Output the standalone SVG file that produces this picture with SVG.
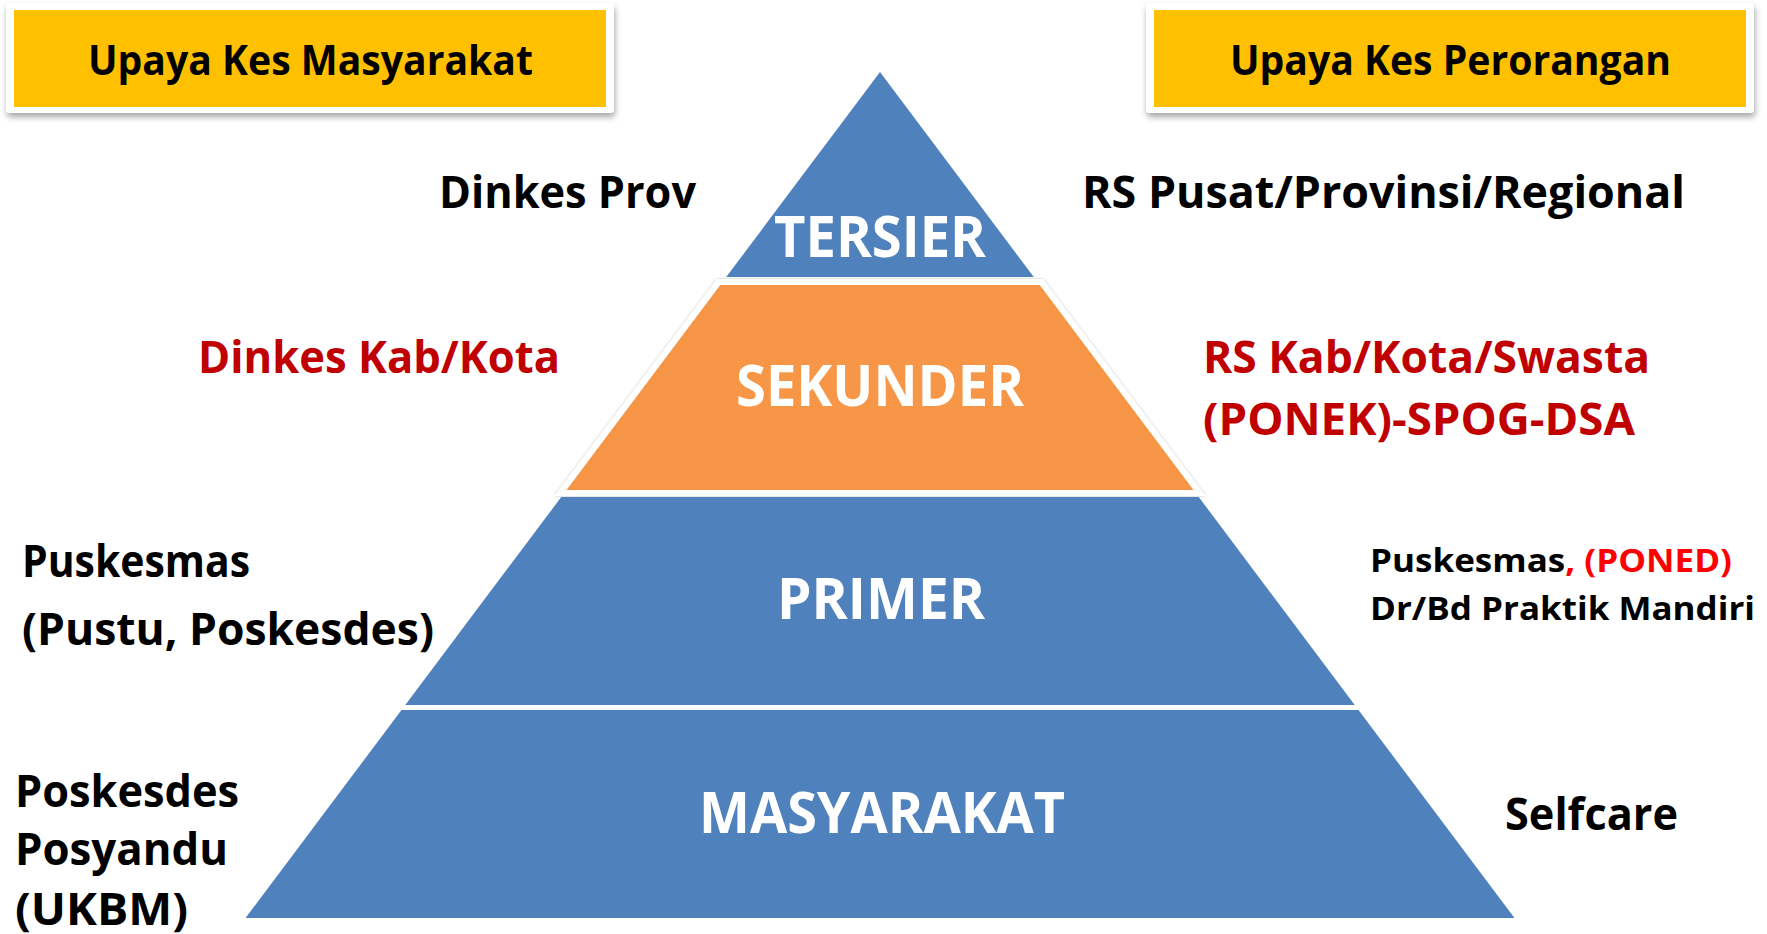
<svg xmlns="http://www.w3.org/2000/svg" width="1767" height="934" viewBox="0 0 1767 934">
  <defs>
    <filter id="hdrShadow" x="-5%" y="-20%" width="110%" height="150%">
      <feDropShadow dx="1" dy="4" stdDeviation="3" flood-color="#000" flood-opacity="0.35"/>
    </filter>
    <filter id="segGlow" x="-5%" y="-5%" width="110%" height="115%">
      <feDropShadow dx="0" dy="0" stdDeviation="1.5" flood-color="#000" flood-opacity="0.25"/>
    </filter>
  </defs>
  <style>
    text { font-family: "Open Sans", "Noto Sans", "Liberation Sans", sans-serif; font-weight: bold; }
    .hdr-frame { fill: #ffffff; filter: url(#hdrShadow); }
    .hdr-fill { fill: #FFC000; }
    .hdr-text { font-size: 42px; fill: #000000; }
    .blue { fill: #4F81BD; }
    .orange { fill: #F79646; }
    .lvl { font-size: 57px; fill: #ffffff; text-anchor: middle; }
    .side { font-size: 44px; fill: #000000; }
    .side-red { font-size: 44px; fill: #C00000; }
    .small { font-size: 33px; fill: #000000; }
    .bright { fill: #FF0000; }
  </style>
  <rect width="1767" height="934" fill="#ffffff"/>

  <g id="header-masyarakat">
    <rect class="hdr-frame" x="6" y="3" width="608" height="110" rx="4"/>
    <rect class="hdr-fill" x="14" y="10" width="592" height="97"/>
    <text class="hdr-text" x="88" y="75" textLength="445" lengthAdjust="spacingAndGlyphs">Upaya Kes Masyarakat</text>
  </g>

  <g id="header-perorangan">
    <rect class="hdr-frame" x="1146" y="3" width="608" height="110" rx="4"/>
    <rect class="hdr-fill" x="1154" y="10" width="592" height="97"/>
    <text class="hdr-text" x="1230" y="75" textLength="441" lengthAdjust="spacingAndGlyphs">Upaya Kes Perorangan</text>
  </g>

  <g id="level-tersier">
    <polygon class="blue" points="880,72 1033.75,277 726.25,277"/>
    <text class="lvl" x="880" y="257" textLength="212" lengthAdjust="spacingAndGlyphs">TERSIER</text>
  </g>

  <g id="level-sekunder">
    <polygon fill="#ffffff" filter="url(#segGlow)" points="717.25,279 1042.75,279 1205.5,496 554.5,496"/>
    <polygon class="orange" points="720.25,285 1039.75,285 1193.5,490 566.5,490"/>
    <text class="lvl" x="880" y="406" textLength="288" lengthAdjust="spacingAndGlyphs">SEKUNDER</text>
  </g>

  <g id="level-primer">
    <polygon class="blue" points="561.25,497 1198.75,497 1354.75,705 405.25,705"/>
    <text class="lvl" x="881" y="619" textLength="208" lengthAdjust="spacingAndGlyphs">PRIMER</text>
  </g>

  <g id="level-masyarakat">
    <polygon class="blue" points="401.5,710 1358.5,710 1514.5,918 245.5,918"/>
    <text class="lvl" x="882" y="833" textLength="366" lengthAdjust="spacingAndGlyphs">MASYARAKAT</text>
  </g>

  <g id="label-dinkes-prov">
    <text class="side" x="439" y="208" textLength="257" lengthAdjust="spacingAndGlyphs">Dinkes Prov</text>
  </g>
  <g id="label-rs-pusat">
    <text class="side" x="1082" y="208" textLength="603" lengthAdjust="spacingAndGlyphs">RS Pusat/Provinsi/Regional</text>
  </g>
  <g id="label-dinkes-kab">
    <text class="side-red" x="198" y="373" textLength="362" lengthAdjust="spacingAndGlyphs">Dinkes Kab/Kota</text>
  </g>
  <g id="label-rs-kab">
    <text class="side-red" x="1203" y="373" textLength="447" lengthAdjust="spacingAndGlyphs">RS Kab/Kota/Swasta</text>
    <text class="side-red" x="1203" y="435" textLength="432" lengthAdjust="spacingAndGlyphs">(PONEK)-SPOG-DSA</text>
  </g>
  <g id="label-puskesmas-left">
    <text class="side" x="22" y="577" textLength="228" lengthAdjust="spacingAndGlyphs">Puskesmas</text>
    <text class="side" x="22" y="645" textLength="412" lengthAdjust="spacingAndGlyphs">(Pustu, Poskesdes)</text>
  </g>
  <g id="label-puskesmas-right">
    <text class="small" x="1370" y="572" textLength="362" lengthAdjust="spacingAndGlyphs">Puskesmas<tspan class="bright">, (PONED)</tspan></text>
    <text class="small" x="1370" y="620" textLength="385" lengthAdjust="spacingAndGlyphs">Dr/Bd Praktik Mandiri</text>
  </g>
  <g id="label-ukbm">
    <text class="side" x="15" y="807" textLength="224" lengthAdjust="spacingAndGlyphs">Poskesdes</text>
    <text class="side" x="15" y="865" textLength="213" lengthAdjust="spacingAndGlyphs">Posyandu</text>
    <text class="side" x="15" y="925" textLength="173" lengthAdjust="spacingAndGlyphs">(UKBM)</text>
  </g>
  <g id="label-selfcare">
    <text class="side" x="1505" y="830" textLength="173" lengthAdjust="spacingAndGlyphs">Selfcare</text>
  </g>

  <g id="connectors"/>
</svg>
